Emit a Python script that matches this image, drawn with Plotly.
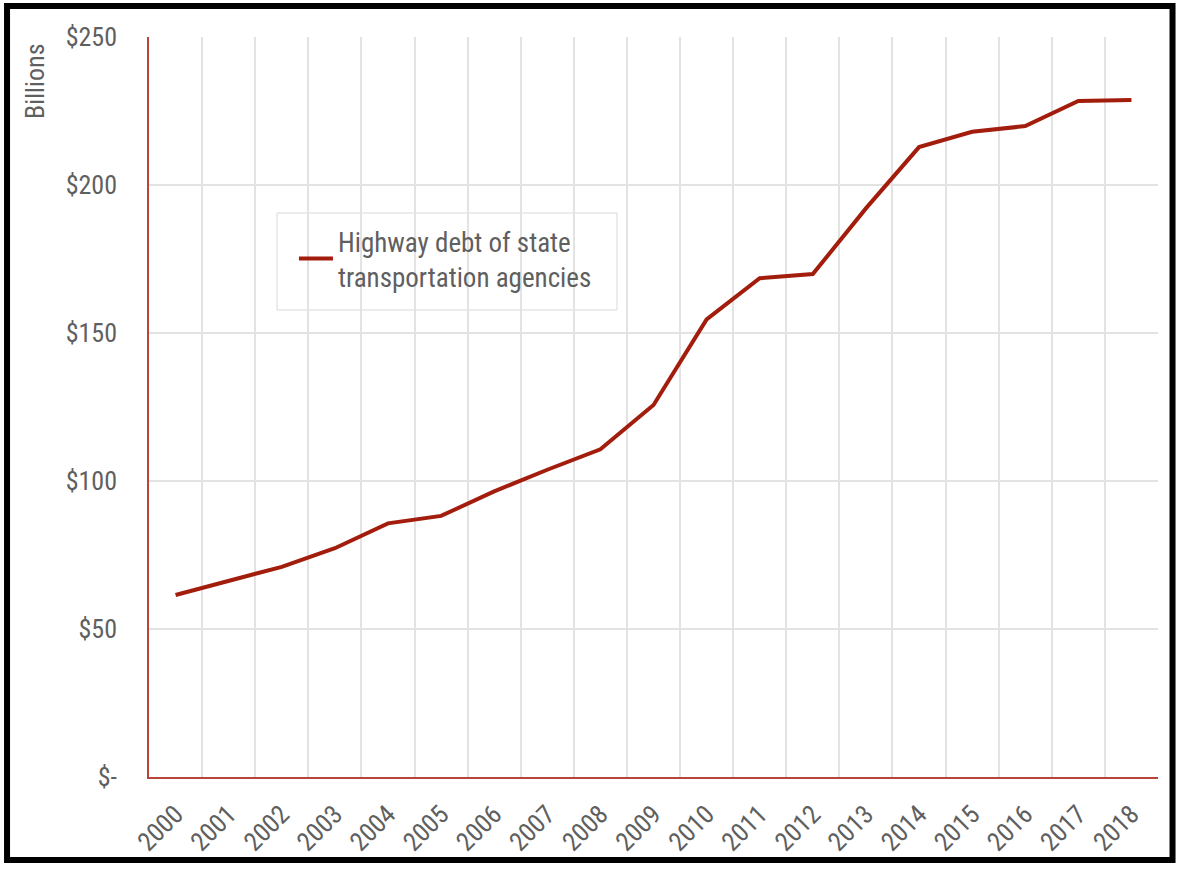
import plotly.graph_objects as go

# Highway debt of state transportation agencies, $ billions
years = [str(y) for y in range(2000, 2019)]
debt = [61.5, 66.2, 71.0, 77.3, 85.7, 88.2, 96.5, 103.8, 110.7, 125.7,
        154.6, 168.5, 169.9, 192.1, 212.8, 218.0, 219.9, 228.4, 228.7]

y_ticks = [0, 50, 100, 150, 200, 250]
y_tick_text = ["$-", "$50", "$100", "$150", "$200", "$250"]

line_red = "#a31d0d"
axis_red = "#b8443a"
grid_gray = "#e3e3e3"
text_gray = "#5f5f5f"
font_family = "Roboto Condensed, Liberation Sans Narrow, Roboto, sans-serif"

fig = go.Figure()
fig.add_trace(go.Scatter(
    x=years, y=debt, mode="lines",
    name="Highway debt of state<br>transportation agencies",
    line=dict(color=line_red, width=4),
))

fig.update_layout(
    width=1182, height=870,
    margin=dict(l=149, r=24, t=37, b=93),
    paper_bgcolor="white", plot_bgcolor="white",
    font=dict(family=font_family, size=26, color=text_gray),
    showlegend=True,
    legend=dict(
        x=0.1298, y=0.7568, xanchor="left", yanchor="top",
        bgcolor="rgba(0,0,0,0)", borderwidth=0,
        font=dict(size=27, color=text_gray),
        itemwidth=34, indentation=14,
    ),
    xaxis=dict(
        type="category", tickson="boundaries", range=[-0.5, 18.5],
        showgrid=True, gridcolor=grid_gray, gridwidth=1.5,
        showline=True, linecolor=axis_red, linewidth=1.5,
        ticks="", tickangle=-45, ticklabelstandoff=10,
        tickfont=dict(size=26, color=text_gray),
        zeroline=False,
    ),
    yaxis=dict(
        range=[0, 250], tickvals=y_ticks, ticktext=y_tick_text,
        showgrid=True, gridcolor=grid_gray, gridwidth=1.5,
        showline=True, linecolor=axis_red, linewidth=1.5,
        ticks="", ticklabelstandoff=25,
        tickfont=dict(size=26, color=text_gray),
        zeroline=False,
    ),
)

# legend box drawn as a shape so its padding matches the original
fig.add_shape(
    type="rect", xref="paper", yref="paper",
    x0=0.1269, x1=0.4638, y0=0.6311, y1=0.7622,
    fillcolor="white", line=dict(color="#d9d9d9", width=1), layer="between",
)

# y axis title sits in the top-left corner
fig.add_annotation(
    text="Billions", xref="paper", yref="paper",
    x=-0.113, y=0.9405, xanchor="center", yanchor="middle",
    textangle=-90, showarrow=False,
    font=dict(size=26, color=text_gray),
)

# black frame around the whole picture
fig.add_shape(
    type="rect", xref="paper", yref="paper",
    x0=-0.1407, x1=1.0144, y0=-0.1122, y1=1.0419,
    line=dict(color="black", width=6), layer="above",
)

# the page's default body margin would push the figure 8px in
fig.write_html("out.html", config={"displayModeBar": False},
               post_script="document.body.style.margin='0';")
